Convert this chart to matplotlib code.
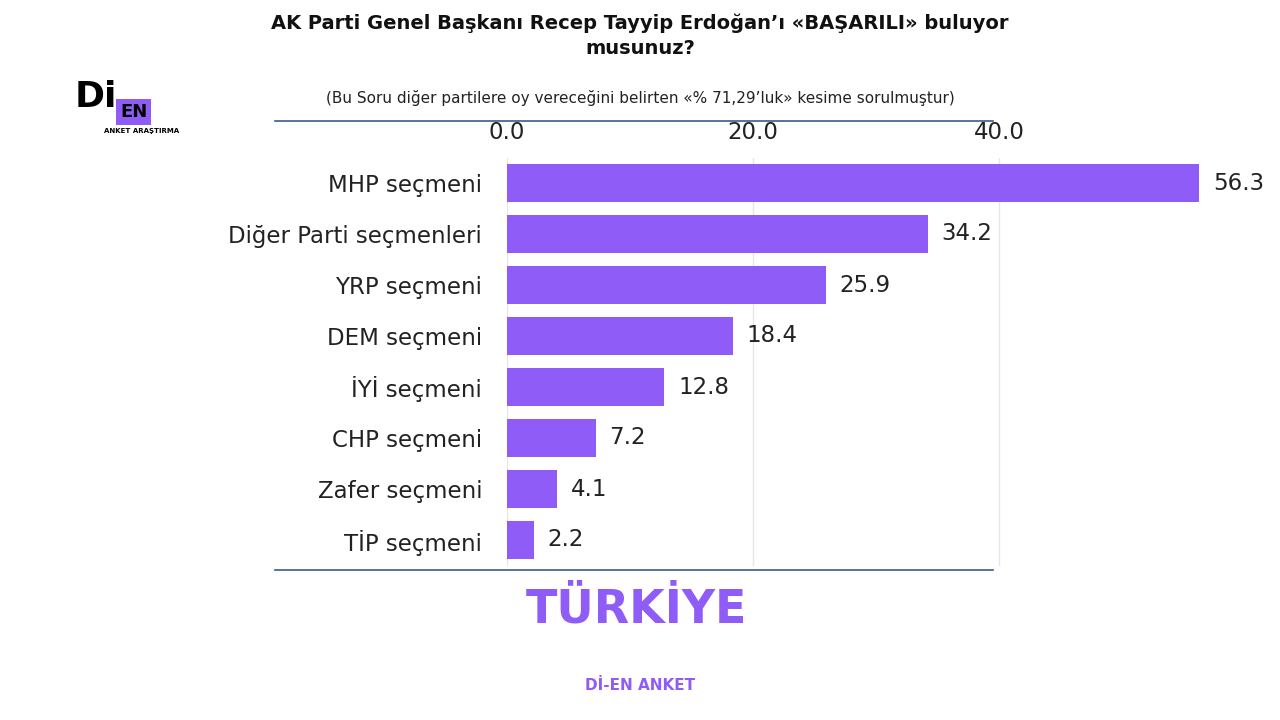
import matplotlib.pyplot as plt

# Veriler
kategoriler = ["MHP seçmeni", "Diğer Parti seçmenleri", "YRP seçmeni", "DEM seçmeni",
               "İYİ seçmeni", "CHP seçmeni", "Zafer seçmeni", "TİP seçmeni"]
degerler = [56.3, 34.2, 25.9, 18.4, 12.8, 7.2, 4.1, 2.2]
ticks = [0, 20, 40]
mor = "#8f5cf7"

fig = plt.figure(figsize=(12.8, 7.2), dpi=100)
fig.patch.set_facecolor("white")

ax = fig.add_axes([507 / 1280, 1 - 565.5 / 720, 738 / 1280, 408 / 720])
y = list(range(len(kategoriler)))
ax.barh(y, degerler, height=0.75, color=mor, zorder=3)
for yi, v in zip(y, degerler):
    ax.text(v + 1.1, yi, f"{v:.1f}", va="center", ha="left", fontsize=16.5, color="#222222")

ax.set_xlim(0, 60)
ax.set_ylim(len(kategoriler) - 0.5, -0.5)
ax.set_yticks(y)
ax.set_yticklabels(kategoriler, fontsize=16.5, color="#222222")
ax.set_xticks(ticks)
ax.set_xticklabels([f"{t:.1f}" for t in ticks], fontsize=16.5, color="#222222")
ax.xaxis.tick_top()
ax.tick_params(length=0, pad=18)
ax.tick_params(axis="x", pad=10)
ax.grid(axis="x", color="#e6e6e6", linewidth=1, zorder=0)
for s in ax.spines.values():
    s.set_visible(False)
ax.set_facecolor("none")

# Başlıklar
fig.text(0.5, 1 - 23 / 720, "AK Parti Genel Başkanı Recep Tayyip Erdoğan’ı «BAŞARILI» buluyor",
         ha="center", va="center", fontsize=14, fontweight="bold", color="#111111")
fig.text(0.5, 1 - 48 / 720, "musunuz?", ha="center", va="center",
         fontsize=14, fontweight="bold", color="#111111")
fig.text(0.5, 1 - 98 / 720,
         "(Bu Soru diğer partilere oy vereceğini belirten «% 71,29’luk» kesime sorulmuştur)",
         ha="center", va="center", fontsize=11, color="#222222")

# Çizgiler
for yy in [121, 570]:
    fig.add_artist(plt.Line2D([275 / 1280, 993 / 1280], [1 - yy / 720] * 2,
                              color="#3a5a8c", linewidth=1.2))

fig.text(0.497, 1 - 610 / 720, "TÜRKİYE", ha="center", va="center",
         fontsize=33, fontweight="bold", color=mor)
fig.text(0.5, 1 - 685 / 720, "Dİ-EN ANKET", ha="center", va="center",
         fontsize=11, fontweight="bold", color=mor)

# Logo
fig.text(75 / 1280, 1 - 97 / 720, "Di", ha="left", va="center",
         fontsize=26, fontweight="bold", color="black")
fig.text(120 / 1280, 1 - 112 / 720, "EN", ha="left", va="center", fontsize=13,
         fontweight="bold", color="black",
         bbox=dict(boxstyle="square,pad=0.2", facecolor=mor, edgecolor="none"))
fig.text(104 / 1280, 1 - 131 / 720, "ANKET ARAŞTIRMA", ha="left", va="center",
         fontsize=5, fontweight="bold", color="black")

fig.savefig("out.png", dpi=100)
